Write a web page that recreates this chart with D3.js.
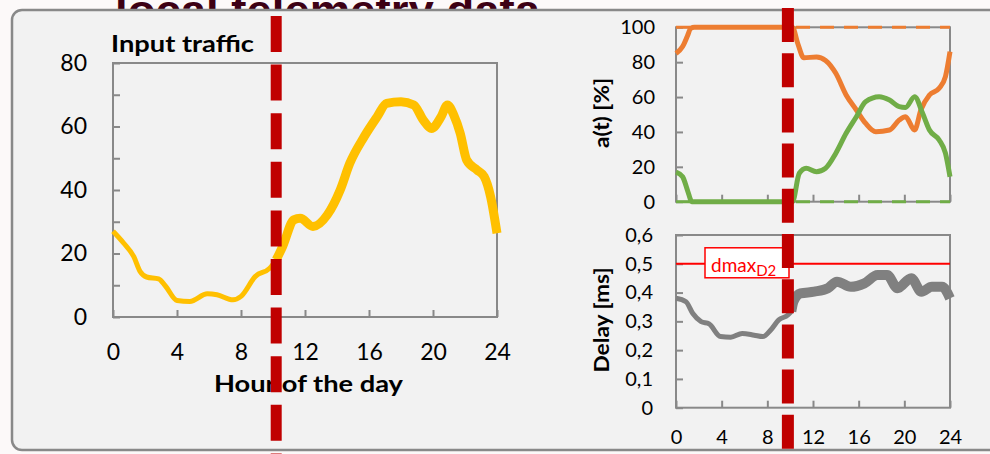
<!DOCTYPE html>
<html>
<head>
<meta charset="utf-8">
<script src="https://cdn.jsdelivr.net/npm/d3@7/dist/d3.min.js"></script>
<style>
    body { margin: 0; background: #fcf9f9; }
    text { font-family: Lato, "Open Sans", sans-serif; }
</style>
</head>
<body>
<script>
//hour of the day vs input traffic
var trafficCalm = [[0, 27], [0.66, 23.3], [1.3, 19], [1.7, 14.3], [2.1, 12.6], [2.85, 12], [3.3, 9.6],
    [4.0, 5.2], [4.8, 4.9], [5.9, 7.3], [6.5, 7], [7.5, 5.4], [8.0, 6.5], [8.9, 12.8], [9.8, 15.4], [10.2, 18]];
var trafficBusy = [[10.2, 18], [10.6, 22.2], [11.3, 30.6], [11.7, 31.1], [12.5, 28.5], [13.4, 32.2], [14.2, 40],
    [14.8, 48.4], [15.7, 56.8], [16.5, 63], [17.1, 67.3], [18.0, 67.8], [18.8, 66.8], [19.4, 62], [19.9, 59.4],
    [20.5, 63], [20.9, 66.8], [21.3, 63.6], [21.7, 57.9], [22.1, 49.5], [22.75, 46.3], [23.2, 44.2], [23.6, 37.9], [24, 26.4]];

//a(t) shares [%]
var shareOrange = [[0, 85], [0.58, 89], [1.0, 95], [1.3, 99.5], [1.6, 100], [10.2, 100], [10.65, 91], [11.2, 82.5],
    [12.3, 83], [13.1, 81], [14.0, 73.6], [14.9, 61.2], [15.8, 52.6], [16.6, 45], [17.5, 40.1], [18.7, 41.1],
    [19.55, 46.8], [20.1, 48.7], [20.9, 41.1], [21.45, 52.6], [22.2, 61.2], [23.05, 65], [23.6, 71.7], [24, 86]];
var shareGreen = [[0, 17], [0.58, 14.3], [1.0, 6.7], [1.4, 0], [10.2, 0], [10.8, 16.3], [11.4, 19.2], [12.3, 17.2],
    [13.1, 19.2], [14.0, 27.8], [14.9, 39.2], [15.8, 48.7], [16.6, 57.3], [17.8, 60.2], [18.7, 58.3], [19.55, 54.5],
    [20.1, 54], [20.9, 60.2], [21.6, 50.7], [22.2, 41.1], [23.05, 35.4], [23.6, 27.8], [24, 14.3]];
var shareLimits = [100, 0]; //dashed reference levels (orange, green)

//delay [ms]
var delayCalm = [[0, 0.38], [0.875, 0.368], [1.46, 0.328], [2.2, 0.299], [2.9, 0.291], [3.9, 0.247], [4.8, 0.245],
    [5.8, 0.258], [6.85, 0.252], [7.6, 0.247], [8.3, 0.27], [9.0, 0.305], [9.8, 0.322], [10.1, 0.335]];
var delayBusy = [[10.1, 0.335], [10.3, 0.37], [10.9, 0.397], [12.1, 0.403], [13.3, 0.415], [14.1, 0.438], [15.3, 0.42],
    [16.5, 0.432], [17.65, 0.461], [18.5, 0.461], [19.4, 0.415], [20.6, 0.45], [21.5, 0.403], [22.4, 0.42],
    [23.3, 0.42], [24, 0.38]];
var dmax = 0.5;

//ticks
var hourTicks = [0, 4, 8, 12, 16, 20, 24];
var trafficTicks = [0, 10, 20, 30, 40, 50, 60, 70, 80];
var shareTicks = [0, 20, 40, 60, 80, 100];
var delayTicks = [0, 0.1, 0.2, 0.3, 0.4, 0.5, 0.6];
var nowHour = [10.2, 9.8]; //the "now" marker in the left and right plots

var w = 990, h = 454;
var colors = { traffic: "#ffc000", orange: "#ed7d31", green: "#70ad47", delay: "#808080", frame: "#898989" };

var svg = d3.select("body").append("svg")
    .attr("width", w)
    .attr("height", h);

//title, mostly hidden behind the panel
svg.append("clipPath")
    .attr("id", "titleClip")
    .append("rect")
    .attr("x", 0).attr("y", 0).attr("width", w).attr("height", 10);
svg.append("text")
    .attr("x", 115)
    .attr("y", 25)
    .attr("textLength", 425)
    .attr("lengthAdjust", "spacingAndGlyphs")
    .attr("clip-path", "url(#titleClip)")
    .style("font-family", "'Liberation Sans', Arial, sans-serif")
    .style("font-weight", "bold")
    .style("font-size", "43px")
    .style("fill", "#3d0014")
    .text("local telemetry data");

//panel
svg.append("rect")
    .attr("x", 12)
    .attr("y", 10)
    .attr("width", 1000)
    .attr("height", 440)
    .attr("rx", 10)
    .style("fill", "#f2f2f2")
    .style("stroke", colors.frame)
    .style("stroke-width", 2.5);

var line = function (x, y) {
    return d3.line()
        .x(function (d) { return x(d[0]); })
        .y(function (d) { return y(d[1]); })
        .curve(d3.curveMonotoneX);
};

//frame + axes helper
function drawAxes(g, x, y, opt) {
    g.append("rect")
        .attr("x", x.range()[0])
        .attr("y", y.range()[1])
        .attr("width", x.range()[1] - x.range()[0])
        .attr("height", y.range()[0] - y.range()[1])
        .style("fill", "none")
        .style("stroke", colors.frame)
        .style("stroke-width", 2);

    var xAxis = d3.axisBottom(x).tickValues(hourTicks).tickSizeInner(-7).tickSizeOuter(0).tickPadding(opt.xPad);
    if (opt.noXLabels) xAxis.tickFormat("");
    var xa = g.append("g")
        .attr("transform", "translate(0," + y.range()[0] + ")")
        .call(xAxis);
    var ya = g.append("g")
        .attr("transform", "translate(" + x.range()[0] + ",0)")
        .call(d3.axisLeft(y).tickValues(opt.yTicks).tickFormat(opt.yFormat).tickSizeInner(-7).tickSizeOuter(0).tickPadding(opt.yPad));

    [xa, ya].forEach(function (a) {
        a.select(".domain").remove();
        a.selectAll("line").style("stroke", colors.frame).style("stroke-width", 2);
        a.selectAll("text")
            .style("font-family", "Lato, 'Open Sans', sans-serif")
            .style("font-size", opt.fontSize + "px")
            .style("fill", "#000");
    });
}

//---------- left: input traffic ----------
var xL = d3.scaleLinear().domain([0, 24]).range([113, 497]);
var yL = d3.scaleLinear().domain([0, 80]).range([317, 63]);
var leftG = svg.append("g");

drawAxes(leftG, xL, yL, {
    yTicks: trafficTicks,
    yFormat: function (d) { return d % 20 === 0 ? d : ""; },
    xPad: 27, yPad: 26, fontSize: 23
});

leftG.append("path")
    .datum(trafficCalm)
    .attr("d", line(xL, yL))
    .style("fill", "none")
    .style("stroke", colors.traffic)
    .style("stroke-width", 5);
leftG.append("path")
    .datum(trafficBusy)
    .attr("d", line(xL, yL))
    .style("fill", "none")
    .style("stroke", colors.traffic)
    .style("stroke-width", 9);

leftG.append("text")
    .attr("x", 111)
    .attr("y", 52)
    .attr("textLength", 143)
    .attr("lengthAdjust", "spacingAndGlyphs")
    .style("font-weight", "bold")
    .style("font-size", "23px")
    .text("Input traffic");

leftG.append("text")
    .attr("x", 214)
    .attr("y", 392)
    .attr("textLength", 189)
    .attr("lengthAdjust", "spacingAndGlyphs")
    .style("font-weight", "bold")
    .style("font-size", "23px")
    .text("Hour of the day");

//---------- right top: a(t) ----------
var xR = d3.scaleLinear().domain([0, 24]).range([676, 950]);
var yA = d3.scaleLinear().domain([0, 100]).range([201.7, 27.3]);
var topG = svg.append("g");

drawAxes(topG, xR, yA, {
    yTicks: shareTicks,
    yFormat: d3.format("d"),
    noXLabels: true,
    xPad: 22, yPad: 21, fontSize: 20
});

//dashed reference levels
topG.selectAll(".limit")
    .data(shareLimits)
    .enter()
    .append("line")
    .attr("class", "limit")
    .attr("x1", xR(0))
    .attr("x2", xR(24))
    .attr("y1", function (d) { return yA(d); })
    .attr("y2", function (d) { return yA(d); })
    .style("stroke", function (d, i) { return i === 0 ? colors.orange : colors.green; })
    .style("stroke-width", 3)
    .style("stroke-dasharray", "14,10");

[[shareOrange, colors.orange], [shareGreen, colors.green]].forEach(function (s) {
    topG.append("path")
        .datum(s[0])
        .attr("d", line(xR, yA))
        .style("fill", "none")
        .style("stroke", s[1])
        .style("stroke-width", 5);
});

topG.append("text")
    .attr("transform", "translate(609,113) rotate(-90)")
    .attr("text-anchor", "middle")
    .attr("textLength", 70)
    .attr("lengthAdjust", "spacingAndGlyphs")
    .style("font-weight", "bold")
    .style("font-size", "21px")
    .text("a(t) [%]");

//---------- right bottom: delay ----------
var yD = d3.scaleLinear().domain([0, 0.6]).range([407.7, 235]);
var bottomG = svg.append("g");
var comma = d3.formatLocale({ decimal: ",", thousands: ".", grouping: [3], currency: ["", ""] }).format(".1f");

drawAxes(bottomG, xR, yD, {
    yTicks: delayTicks,
    yFormat: function (d) { return d === 0 ? "0" : comma(d); },
    xPad: 22, yPad: 23, fontSize: 20
});

bottomG.append("path")
    .datum(delayCalm)
    .attr("d", line(xR, yD))
    .style("fill", "none")
    .style("stroke", colors.delay)
    .style("stroke-width", 5);
bottomG.append("path")
    .datum(delayBusy)
    .attr("d", line(xR, yD))
    .style("fill", "none")
    .style("stroke", colors.delay)
    .style("stroke-width", 10);

//dmax limit line and its label box
bottomG.append("line")
    .attr("x1", xR(0))
    .attr("x2", xR(24))
    .attr("y1", yD(dmax))
    .attr("y2", yD(dmax))
    .style("stroke", "#ff0000")
    .style("stroke-width", 2);
bottomG.append("rect")
    .attr("x", 705)
    .attr("y", yD(dmax) - 16)
    .attr("width", 84)
    .attr("height", 30)
    .style("fill", "#fff")
    .style("stroke", "#ff0000")
    .style("stroke-width", 1.5);
var dlab = bottomG.append("text")
    .attr("x", 711)
    .attr("y", yD(dmax) + 8)
    .style("font-size", "19px")
    .style("fill", "#ff0000");
dlab.append("tspan").text("dmax");
dlab.append("tspan")
    .attr("dy", 4)
    .style("font-size", "15px")
    .text("D2");

bottomG.append("text")
    .attr("transform", "translate(609,320) rotate(-90)")
    .attr("text-anchor", "middle")
    .attr("textLength", 105)
    .attr("lengthAdjust", "spacingAndGlyphs")
    .style("font-weight", "bold")
    .style("font-size", "21px")
    .text("Delay [ms]");

//---------- "now" markers ----------
svg.append("line")
    .attr("x1", xL(nowHour[0]))
    .attr("x2", xL(nowHour[0]))
    .attr("y1", 16)
    .attr("y2", h)
    .style("stroke", "#c00000")
    .style("stroke-width", 11)
    .style("stroke-dasharray", "36,12.6");
svg.append("line")
    .attr("x1", xR(nowHour[1]))
    .attr("x2", xR(nowHour[1]))
    .attr("y1", 8)
    .attr("y2", h)
    .style("stroke", "#c00000")
    .style("stroke-width", 12)
    .style("stroke-dasharray", "34,11.2");
</script>
</body>
</html>
